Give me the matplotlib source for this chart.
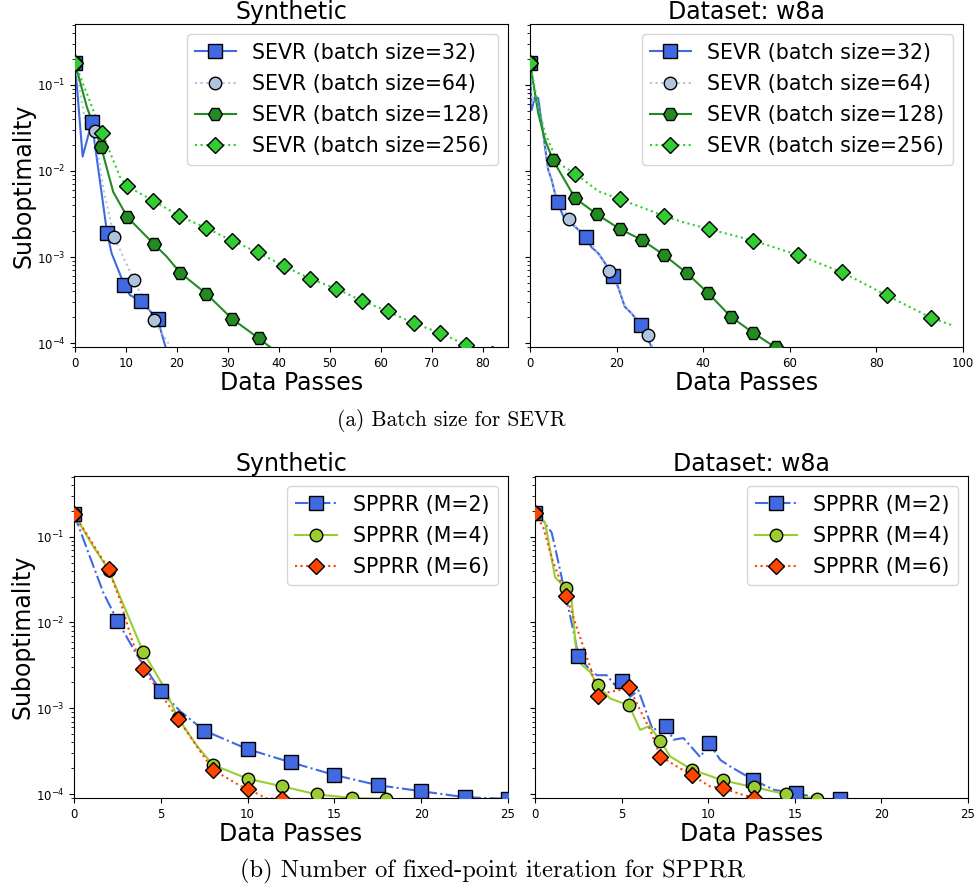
import matplotlib
matplotlib.use("Agg")
import matplotlib.pyplot as plt
from matplotlib.lines import Line2D

# ---------------- data: (a) SEVR, Synthetic ----------------
syn_b32_x = [0, 1.5, 3.3, 6.3, 7.2, 9.7, 10.8, 12.9, 16.2, 17.9]
syn_b32_y = [0.18, 0.0147, 0.037, 0.0019, 0.0011, 4.7e-4, 3.6e-4, 3.1e-4, 1.9e-4, 8.5e-5]
syn_b32_mx = [0, 3.3, 6.3, 9.7, 12.9, 16.2]
syn_b32_my = [0.18, 0.037, 0.0019, 4.7e-4, 3.1e-4, 1.9e-4]

syn_b64_x = [0, 2.4, 3.85, 5.6, 7.7, 11.55, 15.45, 18.8]
syn_b64_y = [0.18, 0.028, 0.029, 0.006, 0.0017, 5.4e-4, 1.85e-4, 9.0e-5]
syn_b64_mx = [0, 3.85, 7.7, 11.55, 15.45]
syn_b64_my = [0.18, 0.029, 0.0017, 5.4e-4, 1.85e-4]

syn_b128_x = [0, 2.3, 5.15, 7.5, 10.3, 15.45, 18.0, 20.6, 25.75, 30.9, 36.05, 38.5]
syn_b128_y = [0.18, 0.056, 0.0188, 0.0057, 0.0029, 0.00142, 0.00101, 6.6e-4, 3.75e-4, 1.9e-4, 1.14e-4, 8.8e-5]
syn_b128_mx = [0, 5.15, 10.3, 15.45, 20.6, 25.75, 30.9, 36.05]
syn_b128_my = [0.18, 0.0188, 0.0029, 0.00142, 6.6e-4, 3.75e-4, 1.9e-4, 1.14e-4]

syn_b256_mx = [0, 5.3, 10.3, 15.4, 20.5, 25.65, 30.8, 35.9, 41.0, 46.15, 51.3, 56.4, 61.5, 66.6, 71.7, 76.8, 81.9]
syn_b256_my = [0.18, 0.0279, 0.0066, 0.0045, 0.0030, 0.00219, 0.00155, 0.00113, 7.85e-4, 5.6e-4,
               4.28e-4, 3.08e-4, 2.33e-4, 1.69e-4, 1.31e-4, 9.5e-5, 7.5e-5]
syn_b256_x = [0, 5.3, 8.8, 10.3, 15.4, 20.5, 25.65, 30.8, 35.9, 41.0, 46.15, 51.3, 56.4, 61.5, 66.6, 71.7, 76.8, 81.9]
syn_b256_y = [0.18, 0.0279, 0.0086, 0.0066, 0.0045, 0.0030, 0.00219, 0.00155, 0.00113, 7.85e-4, 5.6e-4,
              4.28e-4, 3.08e-4, 2.33e-4, 1.69e-4, 1.31e-4, 9.5e-5, 7.5e-5]

# ---------------- data: (a) SEVR, w8a ----------------
w8a_b32_x = [0, 0.38, 1.15, 1.9, 2.7, 4.2, 5.0, 5.77, 6.4, 7.9, 10.4, 12.0, 12.85, 14.2, 15.8,
             17.3, 19.25, 20.4, 21.9, 23.5, 25.65, 28.2]
w8a_b32_y = [0.18, 0.051, 0.073, 0.07, 0.036, 0.0103, 0.0079, 0.0055, 0.0043, 0.0028, 0.00225, 0.0019,
             0.0017, 0.0013, 0.0011, 8.5e-4, 6.0e-4, 4.4e-4, 2.64e-4, 2.2e-4, 1.6e-4, 8.8e-5]
w8a_b32_mx = [0, 6.4, 12.85, 19.25, 25.65]
w8a_b32_my = [0.18, 0.0043, 0.0017, 6.0e-4, 1.6e-4]

w8a_b64_x = [0, 0.4, 1.2, 2.7, 4.2, 5.8, 6.5, 9.1, 10.4, 12.9, 15.8, 18.15, 20.4, 21.9, 23.5, 25.6, 27.2, 28.4]
w8a_b64_y = [0.18, 0.06, 0.075, 0.036, 0.0105, 0.0056, 0.0044, 0.0028, 0.0023, 0.0017, 0.0011,
             6.9e-4, 4.5e-4, 2.7e-4, 2.2e-4, 1.6e-4, 1.23e-4, 8.8e-5]
w8a_b64_mx = [0, 9.1, 18.15, 27.2]
w8a_b64_my = [0.18, 0.0028, 6.9e-4, 1.23e-4]

w8a_b128_mx = [0, 5.3, 10.45, 15.55, 20.7, 25.85, 30.9, 36.15, 41.2, 46.4, 51.5, 56.7]
w8a_b128_my = [0.18, 0.0134, 0.0048, 0.00312, 0.00212, 0.00158, 0.00106, 6.56e-4, 3.78e-4, 2.02e-4, 1.32e-4, 8.9e-5]
w8a_b128_x = [0, 1.9, 3.46, 5.3, 10.45, 15.55, 20.7, 25.85, 30.9, 36.15, 41.2, 46.4, 51.5, 56.7]
w8a_b128_y = [0.18, 0.047, 0.023, 0.0134, 0.0048, 0.00312, 0.00212, 0.00158, 0.00106, 6.56e-4, 3.78e-4,
              2.02e-4, 1.32e-4, 8.9e-5]

w8a_b256_mx = [0, 10.5, 20.8, 31.0, 41.25, 51.55, 61.8, 72.1, 82.35, 92.65]
w8a_b256_my = [0.18, 0.0093, 0.0047, 0.0030, 0.00212, 0.00155, 0.00106, 6.64e-4, 3.59e-4, 1.97e-4]
w8a_b256_x = [0, 1.9, 3.46, 6.5, 10.5, 15.8, 20.8, 31.0, 35.0, 41.25, 51.55, 61.8, 72.1, 82.35, 92.65, 97.6]
w8a_b256_y = [0.18, 0.056, 0.0275, 0.0123, 0.0093, 0.0058, 0.0047, 0.0030, 0.00257, 0.00212, 0.00155,
              0.00106, 6.64e-4, 3.59e-4, 1.97e-4, 1.6e-4]

# ---------------- data: (b) SPPRR, Synthetic ----------------
syn_m2_mx = [0, 2.5, 5, 7.5, 10, 12.5, 15, 17.5, 20, 22.5, 25]
syn_m2_my = [0.185, 0.0105, 0.00158, 5.5e-4, 3.34e-4, 2.34e-4, 1.67e-4, 1.27e-4, 1.08e-4, 9.2e-5, 8.8e-5]
syn_m2_x = [0, 0.92, 1.7, 2.5, 3.62, 5, 6.13, 7.5, 10, 12.5, 15, 17.5, 20, 22.5, 25]
syn_m2_y = [0.185, 0.058, 0.022, 0.0105, 0.0042, 0.00158, 9.2e-4, 5.5e-4, 3.34e-4, 2.34e-4, 1.67e-4,
            1.27e-4, 1.08e-4, 9.2e-5, 8.8e-5]

syn_m4_mx = [0, 2, 4, 6, 8, 10, 12, 14, 16, 18]
syn_m4_my = [0.185, 0.041, 0.00448, 7.65e-4, 2.2e-4, 1.51e-4, 1.23e-4, 9.9e-5, 9.0e-5, 8.8e-5]
syn_m4_x = [0, 1.12, 2, 4, 5.16, 6, 7.1, 8, 10, 12, 14, 16, 18]
syn_m4_y = [0.185, 0.0765, 0.041, 0.00448, 0.0018, 7.65e-4, 3.6e-4, 2.2e-4, 1.51e-4, 1.23e-4, 9.9e-5, 9.0e-5, 8.8e-5]

syn_m6_mx = [0, 2, 4, 6, 8, 10, 12]
syn_m6_my = [0.185, 0.0417, 0.00287, 7.5e-4, 1.92e-4, 1.15e-4, 8.7e-5]
syn_m6_x = [0, 2, 2.66, 3.33, 4, 6, 8, 9.6, 10, 11.1, 12]
syn_m6_y = [0.185, 0.0417, 0.018, 0.0063, 0.00287, 7.5e-4, 1.92e-4, 1.24e-4, 1.15e-4, 8.9e-5, 8.7e-5]

# ---------------- data: (b) SPPRR, w8a ----------------
w8a_m2_mx = [0, 2.5, 5.03, 7.55, 10.06, 12.58, 15.09, 17.6]
w8a_m2_my = [0.19, 0.0041, 0.00207, 6.2e-4, 3.9e-4, 1.47e-4, 1.02e-4, 8.8e-5]
w8a_m2_x = [0, 0.5, 0.96, 1.16, 1.35, 2.21, 2.5, 3.18, 3.57, 4.14, 4.62, 5.03, 5.49, 5.97, 6.8, 7.55,
            8.0, 8.57, 9.54, 10.06, 10.7, 11.27, 12.58, 13.8, 15.09, 16.5]
w8a_m2_y = [0.19, 0.15, 0.112, 0.075, 0.05, 0.0081, 0.0041, 0.00278, 0.00243, 0.00243, 0.00186, 0.00207,
            0.00136, 0.00162, 5.6e-4, 6.2e-4, 4.3e-4, 4.5e-4, 2.7e-4, 3.9e-4, 2.5e-4, 2.1e-4, 1.47e-4,
            1.12e-4, 1.02e-4, 8.9e-5]

w8a_m4_mx = [0, 1.81, 3.62, 5.43, 7.24, 9.05, 10.86, 12.67, 14.48, 16.29]
w8a_m4_my = [0.19, 0.0253, 0.00186, 0.00108, 4.2e-4, 1.93e-4, 1.44e-4, 1.2e-4, 1.0e-4, 8.8e-5]
w8a_m4_x = [0, 0.58, 1.16, 1.54, 1.81, 2.12, 2.41, 2.5, 3.18, 3.62, 4.34, 5.43, 6.07, 6.6, 7.24, 7.8,
            9.05, 10.86, 12.67, 14.48, 16.29]
w8a_m4_y = [0.19, 0.147, 0.0337, 0.028, 0.0253, 0.018, 0.004, 0.0035, 0.00265, 0.00186, 0.0013, 0.00108,
            5.6e-4, 6.2e-4, 4.2e-4, 2.75e-4, 1.93e-4, 1.44e-4, 1.2e-4, 1.0e-4, 8.8e-5]

w8a_m6_mx = [0, 1.81, 3.62, 5.43, 7.24, 9.05, 10.86, 12.67]
w8a_m6_my = [0.19, 0.0206, 0.0014, 0.00175, 2.74e-4, 1.66e-4, 1.17e-4, 9.0e-5]
w8a_m6_x = [0, 0.48, 0.96, 1.45, 1.81, 2.21, 2.79, 3.28, 3.62, 4.34, 4.82, 5.43, 6.07, 6.65, 7.24,
            8.19, 9.05, 10.1, 10.86, 11.85, 12.67]
w8a_m6_y = [0.19, 0.128, 0.057, 0.031, 0.0206, 0.0116, 0.0052, 0.00265, 0.0014, 0.00156, 0.00162, 0.00175,
            9.5e-4, 5.6e-4, 2.74e-4, 2.1e-4, 1.66e-4, 1.23e-4, 1.17e-4, 1.0e-4, 9.0e-5]

sevr_labels = ["SEVR (batch size=32)", "SEVR (batch size=64)",
               "SEVR (batch size=128)", "SEVR (batch size=256)"]
spprr_labels = ["SPPRR (M=2)", "SPPRR (M=4)", "SPPRR (M=6)"]
titles = ["Synthetic", "Dataset: w8a"]
captions = ["(a) Batch size for SEVR", "(b) Number of fixed-point iteration for SPPRR"]

# ---------------- styles ----------------
sevr_styles = [
    dict(color="royalblue", ls="-", marker="s"),
    dict(color="lightsteelblue", ls=":", marker="o"),
    dict(color="forestgreen", ls="-", marker="H"),
    dict(color="limegreen", ls=":", marker="D"),
]
spprr_styles = [
    dict(color="royalblue", ls="-.", marker="s"),
    dict(color="yellowgreen", ls="-", marker="o"),
    dict(color="orangered", ls=":", marker="D"),
]
MS = {"s": 9.5, "o": 9.0, "H": 10.0, "D": 8.5}
LW = 1.5
LABEL_FS = 17
LEG_FS = 14.8

fig = plt.figure(figsize=(9.77, 8.90), dpi=100)
W, H = 977.0, 890.0


def make_ax(l, r, t, b):
    return fig.add_axes([l / W, 1 - b / H, (r - l) / W, (b - t) / H])


ax_tl = make_ax(75, 508, 24, 347)
ax_tr = make_ax(530, 963, 24, 347)
ax_bl = make_ax(74, 508, 476, 798)
ax_br = make_ax(535, 968, 476, 798)


def draw(ax, series, styles, labels):
    handles = []
    for (x, y, mx, my), st, lab in zip(series, styles, labels):
        ax.plot(x, y, color=st["color"], ls=st["ls"], lw=LW, zorder=2)
        ax.plot(mx, my, ls="none", marker=st["marker"], ms=MS[st["marker"]],
                mfc=st["color"], mec="black", mew=1.0, zorder=3)
        handles.append(Line2D([], [], color=st["color"], ls=st["ls"], lw=LW,
                              marker=st["marker"], ms=MS[st["marker"]],
                              mfc=st["color"], mec="black", mew=1.0))
    ax.legend(handles, labels, loc="upper right", fontsize=LEG_FS, labelspacing=0.55)


draw(ax_tl, [(syn_b32_x, syn_b32_y, syn_b32_mx, syn_b32_my),
             (syn_b64_x, syn_b64_y, syn_b64_mx, syn_b64_my),
             (syn_b128_x, syn_b128_y, syn_b128_mx, syn_b128_my),
             (syn_b256_x, syn_b256_y, syn_b256_mx, syn_b256_my)], sevr_styles, sevr_labels)
draw(ax_tr, [(w8a_b32_x, w8a_b32_y, w8a_b32_mx, w8a_b32_my),
             (w8a_b64_x, w8a_b64_y, w8a_b64_mx, w8a_b64_my),
             (w8a_b128_x, w8a_b128_y, w8a_b128_mx, w8a_b128_my),
             (w8a_b256_x, w8a_b256_y, w8a_b256_mx, w8a_b256_my)], sevr_styles, sevr_labels)
draw(ax_bl, [(syn_m2_x, syn_m2_y, syn_m2_mx, syn_m2_my),
             (syn_m4_x, syn_m4_y, syn_m4_mx, syn_m4_my),
             (syn_m6_x, syn_m6_y, syn_m6_mx, syn_m6_my)], spprr_styles, spprr_labels)
draw(ax_br, [(w8a_m2_x, w8a_m2_y, w8a_m2_mx, w8a_m2_my),
             (w8a_m4_x, w8a_m4_y, w8a_m4_mx, w8a_m4_my),
             (w8a_m6_x, w8a_m6_y, w8a_m6_mx, w8a_m6_my)], spprr_styles, spprr_labels)

xlims = {ax_tl: (0, 85), ax_tr: (0, 100), ax_bl: (0, 25), ax_br: (0, 25)}
for ax, ttl in [(ax_tl, titles[0]), (ax_tr, titles[1]), (ax_bl, titles[0]), (ax_br, titles[1])]:
    ax.set_yscale("log")
    ax.set_ylim(9.0e-5, 0.51)
    ax.set_xlim(*xlims[ax])
    ax.set_title(ttl, fontsize=LABEL_FS, pad=3)
    ax.set_xlabel("Data Passes", fontsize=LABEL_FS, labelpad=1)
    ax.tick_params(labelsize=8.5)

for ax in (ax_tr, ax_br):
    ax.tick_params(axis="y", which="both", labelleft=False)
for ax in (ax_tl, ax_bl):
    ax.set_ylabel("Suboptimality", fontsize=LABEL_FS, labelpad=1)

fig.text(451.5 / W, 1 - 420 / H, captions[0], family="cmr10", fontsize=15.4, ha="center", va="center")
fig.text(492.5 / W, 1 - 871 / H, captions[1], family="cmr10", fontsize=17.6, ha="center", va="center")

fig.savefig("out.png", dpi=100)
